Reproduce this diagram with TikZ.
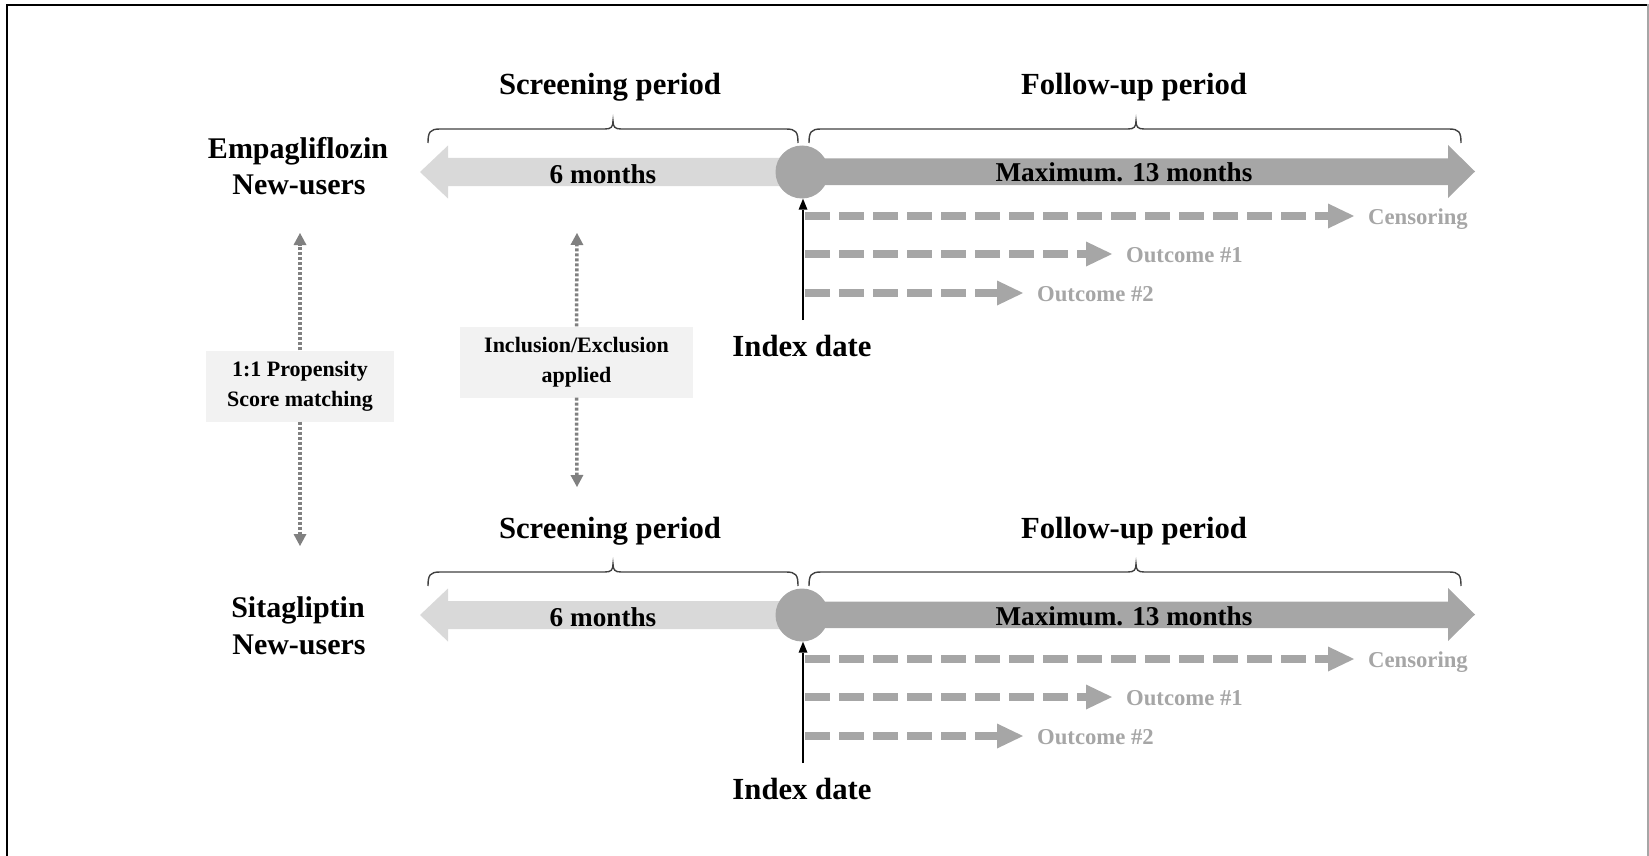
\documentclass[tikz,border=0pt]{standalone}
\usepackage{fontspec}
\setmainfont{Liberation Serif}
\usetikzlibrary{arrows.meta}
\definecolor{lightbar}{HTML}{D9D9D9}
\definecolor{darkbar}{HTML}{A6A6A6}
\definecolor{dotgray}{HTML}{808080}
\definecolor{boxfill}{HTML}{F2F2F2}
\definecolor{bracegray}{HTML}{404040}
\begin{document}
\begin{tikzpicture}[x=1pt,y=-1pt,
  headtext/.style={font=\bfseries\fontsize{30.7pt}{36pt}\selectfont, inner sep=0pt, anchor=base},
  grouptext/.style={font=\bfseries\fontsize{30pt}{35pt}\selectfont, inner sep=0pt, anchor=base},
  bartext/.style={font=\bfseries\fontsize{27.2pt}{30pt}\selectfont, inner sep=0pt, anchor=base},
  evtext/.style={font=\bfseries\fontsize{22.7pt}{27pt}\selectfont, text=darkbar, inner sep=0pt, anchor=base west},
  evarrow/.style={draw=darkbar, line width=8.5pt, dash pattern=on 25pt off 9pt,
    -{Triangle[length=26pt,width=25pt,line width=0pt]}},
  dotarrow/.style={draw=dotgray, line width=3.5pt, dash pattern=on 3pt off 2pt,
    -{Triangle[length=12pt,width=13pt,line width=0pt]}},
  notebox/.style={fill=boxfill, inner sep=0pt, align=center,
    font=\bfseries\fontsize{22pt}{30pt}\selectfont},
  bracestyle/.style={draw=bracegray, line width=1.4pt},
  idxarrow/.style={draw=black, line width=1.5pt, -{Triangle[length=11pt,width=9pt,line width=0pt]}},
  idxdot/.style={circle, fill=darkbar, minimum size=53pt, inner sep=0pt}
]
\useasboundingbox (0,0) rectangle (1649,856);

% outer frame
\draw[line width=2pt] (6.5,860) -- (6.5,4.8) -- (1648,4.8);
\draw[line width=1.5pt, draw=darkbar] (1648.2,4) -- (1648.2,860);

% group names
\node[grouptext] (empa1) at (298,158) {Empagliflozin};
\node[grouptext] (empa2) at (299,194) {New-users};
\node[grouptext] (sita1) at (298,617) {Sitagliptin};
\node[grouptext] (sita2) at (299,654) {New-users};

% one timeline per cohort
\foreach \dy/\p in {0/a,443/b}{
  % brackets over the two periods
  \draw[bracestyle] (428,{143+\dy}) .. controls (428,{132+\dy}) and (430,{129+\dy}) .. (440,{129+\dy})
    -- (605,{129+\dy}) .. controls (611,{129+\dy}) and (613,{127+\dy}) .. (613,{121+\dy})
    .. controls (613,{127+\dy}) and (615,{129+\dy}) .. (621,{129+\dy})
    -- (786,{129+\dy}) .. controls (796,{129+\dy}) and (798,{132+\dy}) .. (798,{143+\dy});
  \draw[bracestyle] (809,{143+\dy}) .. controls (809,{132+\dy}) and (811,{129+\dy}) .. (821,{129+\dy})
    -- (1128,{129+\dy}) .. controls (1134,{129+\dy}) and (1136,{127+\dy}) .. (1136,{121+\dy})
    .. controls (1136,{127+\dy}) and (1138,{129+\dy}) .. (1144,{129+\dy})
    -- (1449,{129+\dy}) .. controls (1459,{129+\dy}) and (1461,{132+\dy}) .. (1461,{143+\dy});
  \node[headtext] (scrhead\p) at (610,{95+\dy}) {Screening period};
  \node[headtext] (fuhead\p) at (1134,{95+\dy}) {Follow-up period};

  % screening bar (backwards) and follow-up bar (forwards)
  \fill[lightbar] (802,{158+\dy}) -- (448,{158+\dy}) -- (448,{145.5+\dy}) -- (420,{172+\dy})
    -- (448,{198.5+\dy}) -- (448,{186+\dy}) -- (802,{186+\dy}) -- cycle;
  \fill[darkbar] (802,{158.5+\dy}) -- (1448,{158.5+\dy}) -- (1448,{145+\dy}) -- (1475,{171.5+\dy})
    -- (1448,{198+\dy}) -- (1448,{185+\dy}) -- (802,{185+\dy}) -- cycle;
  \node[idxdot] (idx\p) at (802,{172+\dy}) {};
  \node[bartext] (scrlen\p) at (603,{183+\dy}) {6 months};
  \node[bartext] (fulen\p) at (1124,{182+\dy}) {Maximum. 13 months};

  % index date marker
  \node[headtext] (idxlab\p) at (802,{356+\dy}) {Index date};
  \coordinate (foot\p) at (803,{320+\dy});
  \draw[idxarrow] (foot\p) -- (foot\p |- idx\p.south);

  % events during follow-up
  \coordinate (ev0\p) at (805,{216+\dy});
  \coordinate (ev1\p) at (805,{254+\dy});
  \coordinate (ev2\p) at (805,{293+\dy});
  \coordinate (cen\p) at (1354,{216+\dy});
  \coordinate (out1\p) at (1112,{254+\dy});
  \coordinate (out2\p) at (1023,{293+\dy});
  \draw[evarrow] (ev0\p) -- (cen\p);
  \draw[evarrow] (ev1\p) -- (out1\p);
  \draw[evarrow] (ev2\p) -- (out2\p);
  \node[evtext] (cenlab\p) at (1368,{224+\dy}) {Censoring};
  \node[evtext] (out1lab\p) at (1126,{262+\dy}) {Outcome \#1};
  \node[evtext] (out2lab\p) at (1037,{301+\dy}) {Outcome \#2};
}

% matching and eligibility notes
\node[notebox, minimum width=188pt, minimum height=71pt] (psm) at (300,386) {1:1 Propensity\\Score matching};
\coordinate (psmtop) at (300,233);
\coordinate (psmbot) at (300,546);
\draw[dotarrow] (psm.north) -- (psmtop);
\draw[dotarrow] (psm.south) -- (psmbot);

\node[notebox, minimum width=233pt, minimum height=71pt] (incl) at (576.5,362) {Inclusion/Exclusion\\applied};
\coordinate (incltop) at (577,233);
\coordinate (inclbot) at (577,487);
\draw[dotarrow] (incl.north) -- (incltop);
\draw[dotarrow] (incl.south) -- (inclbot);
\end{tikzpicture}
\end{document}
